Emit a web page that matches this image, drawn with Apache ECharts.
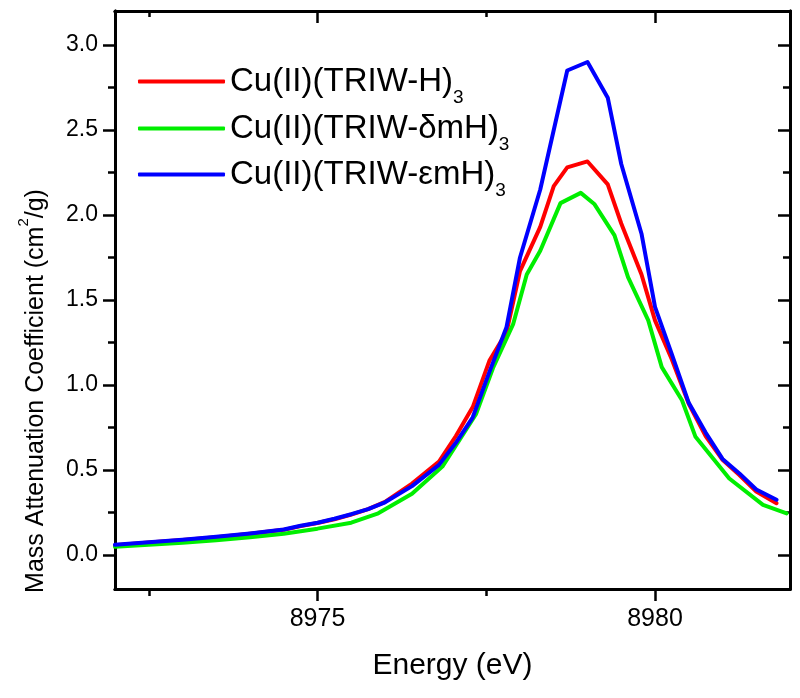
<!DOCTYPE html>
<html>
<head>
<meta charset="utf-8">
<script src="https://cdn.jsdelivr.net/npm/echarts@6/dist/echarts.min.js"></script>
<style>html,body{margin:0;padding:0;background:#fff}#c{width:800px;height:698px}</style>
</head>
<body>
<div id="c"></div>
<script>
// ---- data ----
const seriesNames = ['Cu(II)(TRIW-H)', 'Cu(II)(TRIW-\u03b4mH)', 'Cu(II)(TRIW-\u03b5mH)'];
const energy = [8972.0, 8972.5, 8973.0, 8973.5, 8974.0, 8974.5, 8974.75, 8975.0, 8975.25, 8975.5,
  8975.75, 8976.0, 8976.4, 8976.8, 8977.05, 8977.3, 8977.55, 8977.8, 8978.0, 8978.3,
  8978.5, 8978.7, 8979.0, 8979.3, 8979.5, 8979.8, 8980.0, 8980.25, 8980.5, 8980.75,
  8981.0, 8981.25, 8981.5, 8981.8];
const redH = [0.058, 0.073, 0.088, 0.105, 0.125, 0.148, 0.170, 0.188, 0.210, 0.238,
  0.270, 0.312, 0.42, 0.55, 0.70, 0.87, 1.146, 1.31, 1.67, 1.93,
  2.17, 2.28, 2.315, 2.18, 1.95, 1.65, 1.38, 1.15, 0.89, 0.70,
  0.56, 0.47, 0.373, 0.305];
const blueEps = [0.060, 0.075, 0.090, 0.107, 0.127, 0.150, 0.172, 0.190, 0.213, 0.240,
  0.270, 0.310, 0.405, 0.530, 0.66, 0.81, 1.08, 1.34, 1.75, 2.15,
  2.50, 2.85, 2.90, 2.69, 2.30, 1.89, 1.46, 1.18, 0.895, 0.72,
  0.565, 0.48, 0.385, 0.325];
const energyGreen = [8972.0, 8972.5, 8973.0, 8973.5, 8974.0, 8974.5, 8975.0, 8975.5, 8975.9, 8976.4,
  8976.85, 8977.35, 8977.6, 8977.9, 8978.1, 8978.3, 8978.6, 8978.9, 8979.1, 8979.4,
  8979.6, 8979.9, 8980.1, 8980.4, 8980.6, 8981.1, 8981.6, 8981.95];
const greenDelta = [0.048, 0.060, 0.072, 0.087, 0.105, 0.125, 0.155, 0.19, 0.245, 0.36,
  0.52, 0.83, 1.10, 1.36, 1.65, 1.79, 2.07, 2.13, 2.065, 1.88,
  1.635, 1.38, 1.105, 0.91, 0.695, 0.45, 0.295, 0.245];
const xMajorTicks = [8975, 8980];
const xMinorTicks = [8972.5, 8977.5];
const yMajorTicks = [0, 0.5, 1.0, 1.5, 2.0, 2.5, 3.0];
const yMinorTicks = [0.25, 0.75, 1.25, 1.75, 2.25, 2.75];

const FONT = "'Liberation Sans', Arial, Helvetica, sans-serif";
const pair = (xs, ys) => xs.map((x, i) => [x, ys[i]]);
const colors = ['#ff0000', '#00ee00', '#0000ff'];
const lineW = 2.5;

function xAx(pos, vals, len, inside, labels) {
  return {
    type: 'value', position: pos, min: 8972, max: 8982,
    axisLine: { show: true, onZero: false, lineStyle: { color: '#000', width: 3 } },
    axisTick: { show: true, customValues: vals, length: len, inside: inside, lineStyle: { color: '#000', width: lineW } },
    axisLabel: labels ? { show: true, customValues: vals, margin: 18, fontSize: 25, color: '#000', fontFamily: FONT, formatter: v => String(v) } : { show: false },
    splitLine: { show: false }
  };
}
function yAx(pos, vals, len, inside, labels) {
  return {
    type: 'value', position: pos, min: -0.2, max: 3.2,
    axisLine: { show: true, onZero: false, lineStyle: { color: '#000', width: 3 } },
    axisTick: { show: true, customValues: vals, length: len, inside: inside, lineStyle: { color: '#000', width: lineW } },
    axisLabel: labels ? { show: true, customValues: vals, margin: 17, fontSize: 23, color: '#000', fontFamily: FONT, formatter: v => v.toFixed(1) } : { show: false },
    splitLine: { show: false }
  };
}

const xAxes = [
  xAx('bottom', xMajorTicks, 12, false, true),
  xAx('bottom', xMinorTicks, 7, false, false),
  xAx('top', xMajorTicks, 12, true, false),
  xAx('top', xMinorTicks, 6, true, false)
];
xAxes[0].name = 'Energy (eV)';
xAxes[0].nameLocation = 'middle';
xAxes[0].nameGap = 62;
xAxes[0].nameTextStyle = { fontSize: 30, color: '#000', fontFamily: FONT };

const yAxes = [
  yAx('left', yMajorTicks, 12, false, true),
  yAx('left', yMinorTicks, 7, false, false),
  yAx('right', yMajorTicks, 12, true, false),
  yAx('right', yMinorTicks, 7, true, false)
];
yAxes[0].name = '{a|Mass Attenuation Coefficient (cm}{p|2}{a|/g)}';
yAxes[0].nameLocation = 'middle';
yAxes[0].nameRotate = 90;
yAxes[0].nameGap = 55;
yAxes[0].nameTextStyle = {
  color: '#000', fontFamily: FONT, padding: [0, 182, 0, 0],
  rich: {
    a: { fontSize: 25, lineHeight: 47, color: '#000', fontFamily: FONT },
    p: { fontSize: 15, lineHeight: 15, verticalAlign: 'top', padding: [3, 0, 0, 0], color: '#000', fontFamily: FONT }
  }
};

const legendRows = [80, 127, 173];
const legends = seriesNames.map((n, i) => ({
  data: [n], left: 138, top: legendRows[i] - 15, orient: 'vertical', padding: 0,
  itemWidth: 87, itemHeight: 4, icon: 'roundRect', selectedMode: false,
  formatter: name => '{a|' + name + '}{s|3}',
  textStyle: {
    color: '#000', fontFamily: FONT,
    rich: {
      a: { fontSize: 33, lineHeight: 52, color: '#000', fontFamily: FONT },
      s: { fontSize: 19, lineHeight: 10, verticalAlign: 'bottom', color: '#000', fontFamily: FONT }
    }
  }
}));

const chart = echarts.init(document.getElementById('c'), null, { renderer: 'canvas' });
chart.setOption({
  animation: false,
  backgroundColor: '#fff',
  grid: { left: 115, right: 10, top: 11, bottom: 109, containLabel: false, outerBoundsMode: 'none' },
  xAxis: xAxes,
  yAxis: yAxes,
  legend: legends,
  series: [
    { name: seriesNames[0], type: 'line', data: pair(energy, redH), symbol: 'none', showSymbol: false,
      lineStyle: { color: colors[0], width: 4, cap: 'round', join: 'round' }, itemStyle: { color: colors[0] } },
    { name: seriesNames[1], type: 'line', data: pair(energyGreen, greenDelta), symbol: 'none', showSymbol: false,
      lineStyle: { color: colors[1], width: 4, cap: 'round', join: 'round' }, itemStyle: { color: colors[1] } },
    { name: seriesNames[2], type: 'line', data: pair(energy, blueEps), symbol: 'none', showSymbol: false,
      lineStyle: { color: colors[2], width: 4, cap: 'round', join: 'round' }, itemStyle: { color: colors[2] } }
  ]
});
</script>
</body>
</html>
